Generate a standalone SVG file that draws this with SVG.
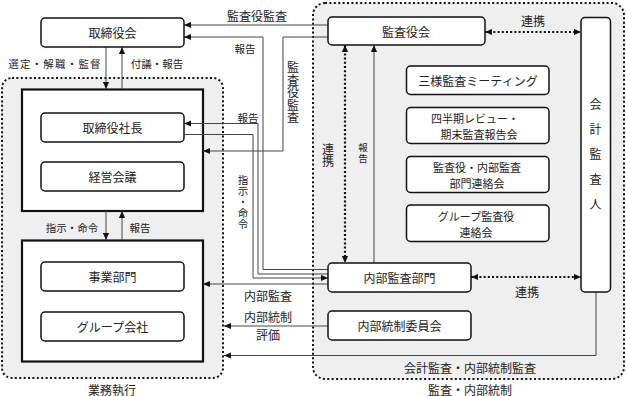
<svg xmlns="http://www.w3.org/2000/svg" width="626" height="396" viewBox="0 0 626 396">
<defs>
<marker id="ah" viewBox="0 0 8 8" refX="8" refY="4" markerWidth="7" markerHeight="7" markerUnits="userSpaceOnUse" orient="auto-start-reverse"><path d="M0,0.5 L8,4 L0,7.5 z" fill="#111"/></marker>
<style>
text{font-family:"Noto Sans CJK JP","Noto Sans CJK SC",sans-serif;fill:#222;text-anchor:middle;dominant-baseline:central}
.t{font-size:12px}
.m{font-size:11px}
.s{font-size:10.5px}
.xs{font-size:9.5px}
.v{writing-mode:vertical-rl;text-orientation:upright}
.rb{fill:#fff;stroke:#111;stroke-width:1.5}
.bb{fill:#fff;stroke:#111;stroke-width:2.2}
.reg{fill:#efefef;stroke:#111;stroke-width:2;stroke-dasharray:2 2.4}
.ln{fill:none;stroke:#444;stroke-width:1}
.dt{fill:none;stroke:#111;stroke-width:2.2;stroke-dasharray:2 2.2}
</style>
</defs>
<rect x="0" y="0" width="626" height="396" fill="#fff"/>
<g id="region-gyomu">
<rect class="reg" x="2" y="78" width="221" height="300" rx="10"/>
<text class="t" x="112" y="389">業務執行</text>
</g>
<g id="region-kansa">
<rect class="reg" x="313" y="3" width="311" height="376" rx="12"/>
<text class="t" x="470" y="389">監査・内部統制</text>
</g>
<g id="box-exec1"><rect class="bb" x="22" y="89.5" width="181" height="121.5"/></g>
<g id="box-exec2"><rect class="bb" x="22" y="240.5" width="181" height="121"/></g>
<g id="connectors">
<path class="ln" d="M106,47 V89" marker-end="url(#ah)"/>
<path class="ln" d="M122,89 V47" marker-end="url(#ah)"/>
<path class="ln" d="M106,211 V240" marker-end="url(#ah)"/>
<path class="ln" d="M122,240 V211" marker-end="url(#ah)"/>
<path class="ln" d="M328,25 H184" marker-end="url(#ah)"/>
<path class="ln" d="M328,37 H283 V151 H203" marker-end="url(#ah)"/>
<path class="ln" d="M328,269.5 H263 V37 H184" marker-end="url(#ah)"/>
<path class="ln" d="M328,274 H258 V123.5 H184" marker-end="url(#ah)"/>
<path class="ln" d="M184,134.5 H253 V278 H328" marker-end="url(#ah)"/>
<path class="ln" d="M328,284 H203" marker-end="url(#ah)"/>
<path class="ln" d="M328,326 H224" marker-end="url(#ah)"/>
<path class="ln" d="M596,292 V355.5 H224" marker-end="url(#ah)"/>
<path class="ln" d="M374,263 V45" marker-end="url(#ah)"/>
<path class="dt" d="M485,32 H581" marker-start="url(#ah)" marker-end="url(#ah)"/>
<path class="dt" d="M471,277 H581" marker-start="url(#ah)" marker-end="url(#ah)"/>
<path class="dt" d="M345,45 V263" marker-start="url(#ah)" marker-end="url(#ah)"/>
<text class="s" x="55" y="63" letter-spacing="1.2">選定・解職・監督</text>
<text class="s" x="157" y="63">付議・報告</text>
<text class="s" x="72" y="227">指示・命令</text>
<text class="s" x="140" y="227">報告</text>
<text class="t" x="257" y="15">監査役監査</text>
<text class="s" x="245" y="48">報告</text>
<text class="s" x="248" y="117">報告</text>
<text class="t v" x="293" y="93" letter-spacing="0.5">監査役監査</text>
<text class="s v" x="243" y="202" letter-spacing="0.5">指示・命令</text>
<text class="t v" x="328" y="155">連携</text>
<text class="xs v" x="363" y="154" letter-spacing="1.5">報告</text>
<text class="t" x="533" y="20">連携</text>
<text class="t" x="527" y="291">連携</text>
<text class="t" x="268" y="295">内部監査</text>
<text class="t" x="268" y="316.5">内部統制</text>
<text class="t" x="268" y="334">評価</text>
<text class="t" x="470" y="367">会計監査・内部統制監査</text>
</g>
<g id="node-torishimariyakukai"><rect class="rb" x="41" y="18" width="143" height="29" rx="4"/><text class="t" x="112.5" y="32.5">取締役会</text></g>
<g id="node-shacho"><rect class="rb" x="41" y="113" width="143" height="29" rx="4"/><text class="t" x="112.5" y="127.5">取締役社長</text></g>
<g id="node-keiei"><rect class="rb" x="41" y="162" width="143" height="29" rx="4"/><text class="t" x="112.5" y="176.5">経営会議</text></g>
<g id="node-jigyo"><rect class="rb" x="41" y="262" width="143" height="29" rx="4"/><text class="t" x="112.5" y="276.5">事業部門</text></g>
<g id="node-group"><rect class="rb" x="41" y="312" width="143" height="29" rx="4"/><text class="t" x="112.5" y="326.5">グループ会社</text></g>
<g id="node-kansayakukai"><rect class="rb" x="328" y="17" width="157" height="28" rx="4"/><text class="t" x="406" y="31">監査役会</text></g>
<g id="node-kaikei"><rect class="rb" x="581" y="17.5" width="29.5" height="274.5" rx="4"/><text class="t v" x="595.5" y="161" letter-spacing="13">会計監査人</text></g>
<g id="node-sanyo"><rect class="rb" x="406.5" y="66" width="142.5" height="28.5" rx="4"/><text class="t" x="478" y="80">三様監査ミーティング</text></g>
<g id="node-shihanki"><rect class="rb" x="406.5" y="107.5" width="142.5" height="36" rx="4"/><text class="m"><tspan x="475" y="117.5">四半期レビュー・</tspan><tspan x="479" y="133.5">期末監査報告会</tspan></text></g>
<g id="node-renraku"><rect class="rb" x="406.5" y="156.5" width="142.5" height="36" rx="4"/><text class="m"><tspan x="477" y="166.5">監査役・内部監査</tspan><tspan x="477" y="182.5">部門連絡会</tspan></text></g>
<g id="node-groupkansa"><rect class="rb" x="406.5" y="205" width="142.5" height="36.5" rx="4"/><text class="m"><tspan x="476" y="215.5">グループ監査役</tspan><tspan x="476" y="231.5">連絡会</tspan></text></g>
<g id="node-naibukansa"><rect class="rb" x="328" y="263" width="143" height="29" rx="4"/><text class="t" x="399.5" y="277.5">内部監査部門</text></g>
<g id="node-naibutosei"><rect class="rb" x="328" y="311" width="143" height="29" rx="4"/><text class="t" x="399.5" y="325.5">内部統制委員会</text></g>
</svg>
